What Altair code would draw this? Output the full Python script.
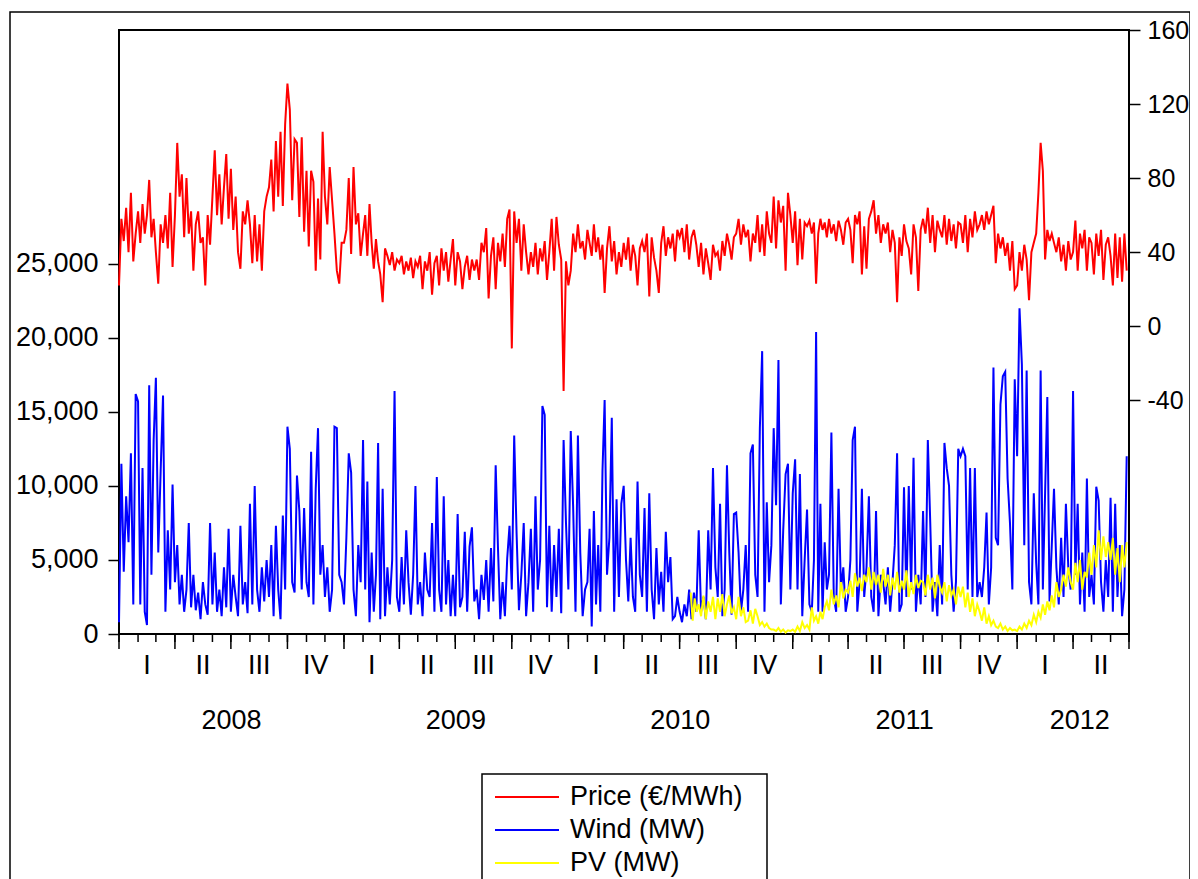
import altair as alt
import pandas as pd

SERIES = ["Price (€/MWh)", "Wind (MW)", "PV (MW)"]
COLORS = ["#ff0000", "#0000ff", "#ffff00"]
QUARTER_LABELS = ["I", "II", "III", "IV"]
YEARS = ["2008", "2009", "2010", "2011", "2012"]
YEAR_LABEL_DATES = ["2008-07-02", "2009-07-02", "2010-07-02", "2011-07-02", "2012-04-12"]
LEFT_TICKS = [0, 5000, 10000, 15000, 20000, 25000]
RIGHT_TICKS = [-40, 0, 40, 80, 120, 160]
PV_START = "2010-07-19"

# Price (EUR/MWh): one list per month, values spread evenly across the month
price_2008 = [
    [22, 58, 46, 64, 40, 72, 35, 50], [62, 45, 66, 50, 60, 79, 48, 58],
    [40, 23, 55, 45, 60, 42, 72, 32], [60, 99, 70, 82, 48, 80, 50, 62],
    [30, 55, 62, 45, 48, 22, 60, 44], [70, 95, 60, 82, 55, 75, 93, 58],
    [85, 52, 70, 40, 31, 62, 55, 68], [55, 34, 60, 35, 55, 30, 62, 70],
    [75, 90, 62, 100, 70, 105, 65, 109], [131, 117, 68, 101, 99, 59, 102, 51],
    [84, 43, 84, 78, 30, 69, 36, 105], [70, 55, 86, 68, 50, 30, 23, 45],
]
price_2009 = [
    [45, 52, 80, 39, 86, 55, 61, 38], [50, 60, 38, 66, 45, 31, 47, 35],
    [28, 13, 42, 38, 33, 40, 30, 36], [34, 38, 28, 35, 30, 37, 26, 35],
    [32, 38, 20, 35, 30, 40, 17, 34], [38, 22, 42, 30, 40, 24, 36, 47],
    [22, 40, 35, 20, 32, 38, 25, 36], [30, 36, 25, 45, 40, 53, 15, 38],
    [48, 20, 45, 35, 50, 32, 58, 63], [-12, 62, 45, 58, 30, 55, 40, 28],
    [40, 32, 45, 28, 42, 35, 46, 25], [40, 58, 30, 59, 44, 36, -35, 35],
]
price_2010 = [
    [22, 30, 50, 40, 55, 42, 46, 36], [52, 45, 38, 55, 40, 48, 36, 44],
    [18, 42, 54, 35, 46, 28, 40, 32], [45, 36, 48, 30, 44, 38, 22, 42],
    [46, 40, 50, 16, 48, 37, 30, 18], [45, 54, 38, 48, 42, 50, 35, 52],
    [48, 53, 40, 55, 36, 48, 52, 44], [32, 45, 28, 42, 34, 25, 44, 38],
    [40, 30, 46, 38, 50, 44, 36, 48], [50, 58, 44, 55, 48, 52, 35, 50],
    [45, 60, 40, 55, 38, 62, 50, 45], [70, 42, 68, 56, 65, 30, 72, 60],
]
price_2011 = [
    [45, 62, 33, 58, 36, 56, 54, 57], [50, 56, 23, 50, 58, 52, 56, 48],
    [58, 50, 55, 46, 57, 52, 44, 56], [58, 52, 34, 60, 55, 62, 28, 54],
    [31, 58, 62, 68, 50, 60, 45, 55], [50, 56, 40, 52, 45, 13, 48, 38],
    [55, 46, 42, 28, 55, 48, 19, 52], [58, 50, 64, 45, 60, 40, 57, 52],
    [48, 60, 44, 58, 46, 55, 42, 56], [55, 45, 60, 40, 58, 48, 62, 52],
    [55, 60, 52, 62, 55, 60, 65, 34], [50, 42, 48, 38, 45, 30, 46, 20],
]
price_2012 = [
    [22, 40, 30, 44, 36, 14, 40, 45], [50, 72, 99, 84, 36, 52, 46, 50],
    [45, 40, 48, 35, 44, 30, 46, 36], [40, 57, 30, 50, 42, 52, 30, 48],
    [45, 28, 50, 38, 52, 25, 44, 48], [38, 22, 50, 26, 48, 24, 50, 30],
]

# Wind (MW)
wind_2008 = [
    [800, 11500, 4200, 9300, 6200, 12200, 2000, 16200],
    [15700, 2000, 11200, 1500, 600, 16800, 4000, 13100],
    [17300, 5500, 11000, 16100, 1500, 7000, 3000, 10100],
    [3500, 6000, 2000, 4000, 1500, 3000, 7500, 1800],
    [4000, 1600, 2800, 1000, 3500, 2000, 1300, 7500],
    [2000, 5500, 1500, 3000, 1200, 4500, 1800, 7100],
    [1500, 4000, 2500, 1200, 7300, 2000, 3500, 1400],
    [8800, 2000, 10000, 3000, 1500, 4500, 2200, 5000],
    [2500, 6000, 1200, 7300, 3000, 1000, 8000, 3000],
    [14000, 12500, 3500, 2800, 10700, 8300, 3000, 8500],
    [3500, 2500, 12300, 2000, 9800, 13900, 4000, 6000],
    [2500, 4500, 1500, 3000, 14000, 13900, 4000, 3500],
]
wind_2009 = [
    [2000, 6500, 12200, 10900, 3000, 1200, 6000, 3500],
    [13100, 3000, 10300, 800, 5500, 1500, 4000, 12900],
    [1000, 9800, 1200, 4500, 2000, 5000, 16400, 2500],
    [1500, 5200, 2000, 7000, 3500, 1300, 4000, 10000],
    [2000, 3500, 1200, 5500, 3000, 2500, 7500, 1500],
    [10600, 3000, 1500, 9300, 2000, 5000, 1200, 4000],
    [1200, 8100, 1800, 2500, 6900, 1500, 5900, 7200],
    [2200, 3000, 1000, 4000, 2300, 5000, 1500, 5800],
    [2200, 11400, 5800, 1000, 3500, 1200, 5100, 7300],
    [3000, 13400, 6800, 1600, 4000, 7500, 1200, 3500],
    [7100, 1500, 9300, 3000, 5000, 15400, 14800, 1800],
    [7300, 1500, 6000, 2500, 7100, 1400, 13100, 7500],
]
wind_2010 = [
    [3000, 13700, 8600, 1500, 13400, 5500, 1200, 3000],
    [3500, 7100, 500, 8300, 2000, 6000, 1500, 11000],
    [15800, 4000, 6500, 14600, 1500, 9100, 2500, 8800],
    [10000, 5000, 2200, 6500, 2500, 1500, 10300, 4000],
    [2500, 8500, 1500, 9500, 3000, 1000, 5800, 2000],
    [4200, 1500, 6900, 3500, 5200, 1000, 1200, 2500],
    [1500, 800, 2000, 1200, 3000, 1000, 2800, 1500],
    [7000, 1500, 2500, 1000, 7000, 3000, 11200, 4500],
    [2500, 8800, 1200, 3000, 11400, 5500, 1300, 8100],
    [8200, 5500, 1500, 3000, 6000, 1500, 12200, 12800],
    [4000, 2500, 13900, 19100, 1500, 8900, 3500, 6000],
    [13900, 8700, 18500, 2000, 7000, 10800, 11500, 3000],
]
wind_2011 = [
    [9500, 11800, 3000, 10800, 1200, 5000, 8400, 2000],
    [1500, 5000, 20400, 1500, 8800, 1500, 6200, 3000],
    [4000, 13600, 2500, 1500, 9800, 3000, 4500, 1500],
    [2500, 5000, 13100, 14000, 1500, 3500, 9800, 2500],
    [4500, 9300, 2500, 1500, 8300, 1200, 4000, 3500],
    [2000, 4500, 1500, 3500, 6000, 12200, 1500, 2000],
    [9900, 2500, 10000, 3000, 11900, 1500, 4000, 2000],
    [8300, 2500, 13100, 7600, 1500, 3500, 1200, 6000],
    [2000, 12900, 11200, 10000, 4000, 1500, 3500, 12500],
    [12000, 12500, 12000, 3000, 11200, 2500, 11200, 2500],
    [3500, 2500, 4500, 8200, 2000, 4500, 18000, 6500],
    [6000, 15500, 17400, 17700, 10500, 7500, 3000, 17200],
]
wind_2012 = [
    [12000, 22000, 18200, 6000, 17800, 3500, 2000, 9500],
    [4800, 2000, 17800, 3000, 9500, 16000, 2200, 6000],
    [9800, 4500, 2000, 6500, 2500, 8800, 4500, 3000],
    [16400, 4000, 8800, 2000, 5500, 1500, 10500, 2500],
    [4000, 2000, 9950, 9000, 3500, 1500, 5000, 2500],
    [9200, 1500, 8800, 2500, 6000, 1200, 3000, 12000],
]

# PV (MW), starting in the second half of July 2010
pv_2010 = [
    [2800, 900, 2400, 1500],
    [2000, 1200, 2600, 1000, 2200, 1500, 2500, 1000],
    [2400, 1500, 2700, 1200, 2000, 2600, 1400, 1800],
    [1000, 2500, 1200, 1800, 800, 900, 1600, 700],
    [1700, 1200, 600, 800, 500, 700, 400, 300],
    [300, 200, 400, 150, 300, 100, 250, 200],
]
pv_2011 = [
    [300, 150, 500, 200, 800, 400, 600, 300],
    [1800, 900, 1200, 700, 1500, 1000, 1800, 2200],
    [1600, 3000, 2000, 2600, 1800, 3500, 2400, 3000],
    [2800, 3600, 2500, 4100, 3200, 3800, 2900, 4000],
    [3500, 4500, 3000, 4200, 3300, 4000, 2800, 4400],
    [3200, 4000, 2600, 3800, 3000, 4200, 2800, 3600],
    [3000, 4300, 2500, 3500, 2700, 4000, 3100, 3600],
    [3500, 2600, 4000, 3000, 3800, 2400, 4000, 3200],
    [2800, 3500, 2200, 3300, 2600, 3000, 2000, 3200],
    [2500, 3200, 1800, 2800, 1500, 2400, 1200, 2000],
    [1500, 900, 1800, 700, 1200, 600, 900, 500],
    [400, 700, 300, 500, 200, 400, 250, 300],
]
pv_2012 = [
    [200, 500, 300, 700, 400, 900, 600, 1300],
    [800, 1500, 1100, 2000, 1300, 2200, 1600, 2600],
    [1800, 3500, 2500, 3000, 4000, 3200, 4500, 3500],
    [3000, 4800, 3500, 5000, 3000, 4200, 3800, 5500],
    [4000, 6000, 4500, 7000, 5000, 6600, 5200, 6200],
    [5000, 6500, 4000, 5800, 3500, 6000, 4500, 6200],
]


def expand(blocks, year, month, first_day=None):
    dates, vals = [], []
    for i, block in enumerate(blocks):
        s = pd.Timestamp(year, month, 1)
        e = s + pd.offsets.MonthBegin(1)
        if i == 0 and first_day is not None:
            s = pd.Timestamp(first_day)
        n = len(block)
        for k, v in enumerate(block):
            dates.append(s + (e - s) * k / n)
            vals.append(v)
        month += 1
        if month > 12:
            month = 1
            year += 1
    return pd.DataFrame({"date": dates, "value": vals})


price_df = expand(price_2008 + price_2009 + price_2010 + price_2011 + price_2012, 2008, 1)
wind_df = expand(wind_2008 + wind_2009 + wind_2010 + wind_2011 + wind_2012, 2008, 1)
pv_df = expand(pv_2010 + pv_2011 + pv_2012, 2010, 7, PV_START)

# calendar helpers for the time axis
month_starts = pd.date_range("2008-01-01", "2012-07-01", freq="MS")
quarter_starts = pd.date_range("2008-01-01", "2012-07-01", freq="QS")
q_rows = []
for qs in quarter_starts[:-1]:
    qe = qs + pd.offsets.QuarterBegin(1, startingMonth=1)
    q_rows.append({"date": qs + (qe - qs) / 2, "label": QUARTER_LABELS[(qs.month - 1) // 3]})
quarter_df = pd.DataFrame(q_rows)
year_df = pd.DataFrame({"date": pd.to_datetime(YEAR_LABEL_DATES), "label": YEARS})

W, H = 1010, 604
FONT = "Liberation Sans"
FS = 27

xscale = alt.Scale(domain=[alt.DateTime(year=2008, month=1, date=1),
                           alt.DateTime(year=2012, month=7, date=1)])
X = alt.X("date:T", scale=xscale, axis=None)

price = alt.Chart(price_df).mark_line(color=COLORS[0], strokeWidth=2).encode(
    x=X,
    y=alt.Y("value:Q",
            scale=alt.Scale(domain=[-166.3, 160], nice=False, zero=False),
            axis=alt.Axis(orient="right", values=RIGHT_TICKS, title=None,
                          labelExpr="datum.value < 0 ? '-' + (-datum.value) : '' + datum.value",
                          labelFontSize=25, tickSize=11, labelPadding=7,
                          domain=False, grid=False)),
)
wind = alt.Chart(wind_df).mark_line(color=COLORS[1], strokeWidth=2).encode(
    x=X,
    y=alt.Y("value:Q",
            scale=alt.Scale(domain=[0, 40785], nice=False, zero=False),
            axis=alt.Axis(orient="left", values=LEFT_TICKS, format=",d", title=None,
                          labelFontSize=FS, tickSize=11, labelPadding=10,
                          domain=False, grid=False)),
)
pv = alt.Chart(pv_df).mark_line(color=COLORS[2], strokeWidth=2).encode(
    x=X,
    y=alt.Y("value:Q", scale=alt.Scale(domain=[0, 40785], nice=False, zero=False), axis=None),
)

month_ticks = alt.Chart(pd.DataFrame({"date": month_starts})).mark_rule(
    color="black", strokeWidth=1.5).encode(x=X, y=alt.value(H), y2=alt.value(H + 8))
quarter_ticks = alt.Chart(pd.DataFrame({"date": quarter_starts})).mark_rule(
    color="black", strokeWidth=1.5).encode(x=X, y=alt.value(H), y2=alt.value(H + 15))
quarter_text = alt.Chart(quarter_df).mark_text(
    font=FONT, fontSize=FS, color="black", baseline="middle", align="center").encode(
    x=X, y=alt.value(H + 32), text="label:N")
year_text = alt.Chart(year_df).mark_text(
    font=FONT, fontSize=FS, color="black", baseline="middle", align="center").encode(
    x=X, y=alt.value(H + 87), text="label:N")

one = pd.DataFrame({"k": [0]})
outer = alt.Chart(one).mark_rect(fill="white", fillOpacity=0, stroke="black", strokeWidth=1.5).encode(
    x=alt.value(-109), x2=alt.value(1071), y=alt.value(-18), y2=alt.value(900))
leg_box = alt.Chart(one).mark_rect(fill="white", fillOpacity=0, stroke="black", strokeWidth=1.5).encode(
    x=alt.value(363), x2=alt.value(648), y=alt.value(744), y2=alt.value(900))

legend_layers = []
for i, (name, col) in enumerate(zip(SERIES, COLORS)):
    yy = 767 + 33 * i
    legend_layers.append(alt.Chart(one).mark_rule(color=col, strokeWidth=2).encode(
        x=alt.value(376), x2=alt.value(440), y=alt.value(yy)))
    legend_layers.append(alt.Chart(pd.DataFrame({"name": [name]})).mark_text(
        font=FONT, fontSize=FS, color="black", baseline="middle", align="left").encode(
        x=alt.value(451), y=alt.value(yy), text="name:N"))

chart = alt.layer(
    outer, price, wind, pv, month_ticks, quarter_ticks, quarter_text, year_text,
    leg_box, *legend_layers
).resolve_scale(y="independent").properties(
    width=W, height=H,
    autosize=alt.AutoSizeParams(type="none"),
    padding={"left": 111, "top": 22, "right": 61, "bottom": 245},
    background="white",
).configure_view(stroke="black", strokeWidth=2).configure_axis(
    labelFont=FONT, labelColor="black",
    tickColor="black", tickWidth=1.5,
)

chart.save("out.html", embed_options={"renderer": "svg", "actions": False})
